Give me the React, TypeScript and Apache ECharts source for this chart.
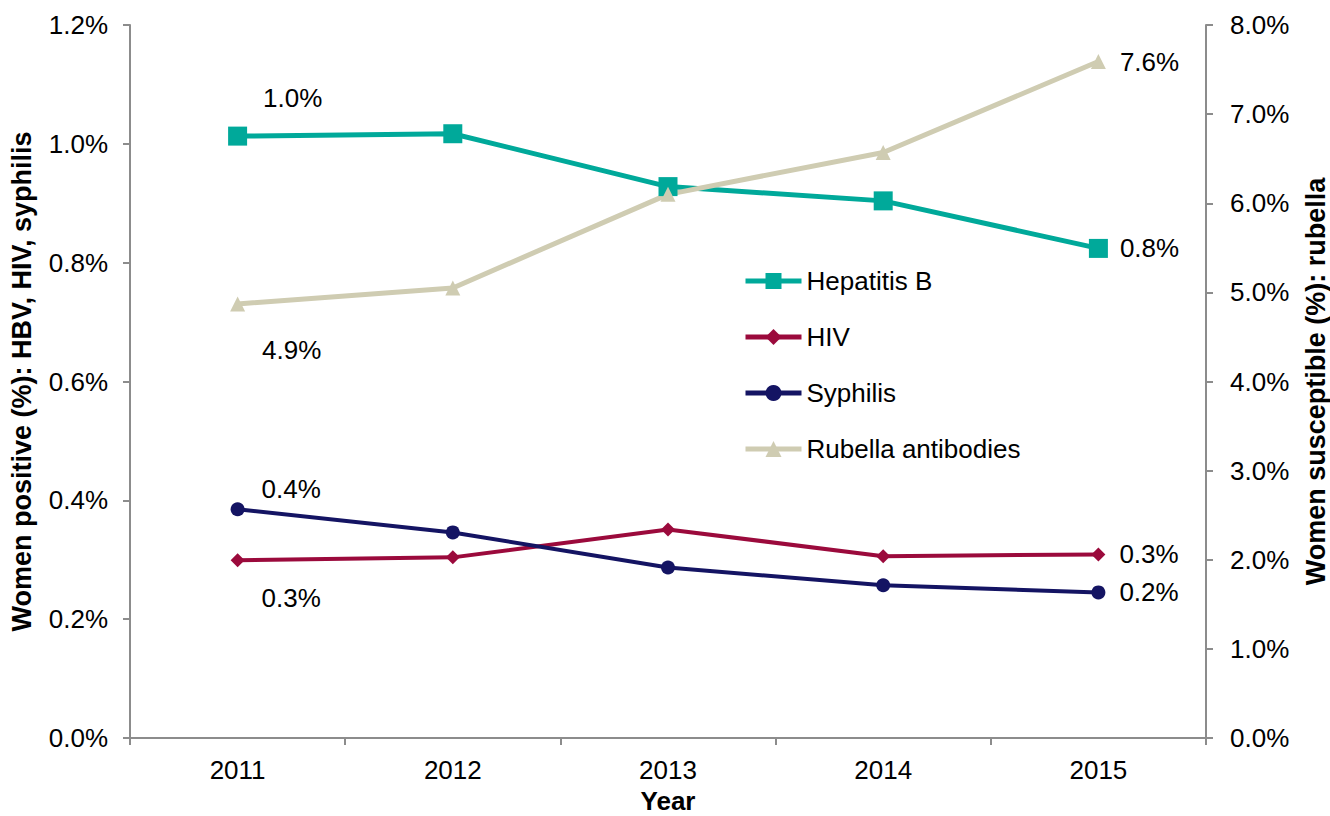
import React, { useEffect, useRef } from "react";
import * as echarts from "echarts";

const years = ["2011", "2012", "2013", "2014", "2015"];
const hepatitisB = [1.013, 1.017, 0.928, 0.904, 0.824];
const hiv = [0.299, 0.304, 0.351, 0.306, 0.309];
const syphilis = [0.385, 0.346, 0.287, 0.257, 0.245];
const rubella = [4.87, 5.05, 6.1, 6.57, 7.59];

const leftTicks = { min: 0, max: 1.2, interval: 0.2 };
const rightTicks = { min: 0, max: 8, interval: 1 };

const FONT = "Liberation Sans, Arial, sans-serif";
const FS = 26;
const TFS = 27;
const AXIS_COLOR = "#8c8c8c";

function withLabels(values: number[], labels: Record<number, { text: string; offset: number[] }>) {
  return values.map((v, i) => {
    const l = labels[i];
    if (!l) return v;
    return {
      value: v,
      label: {
        show: true,
        position: "right",
        distance: 0,
        offset: l.offset,
        formatter: l.text,
        color: "#000",
        fontSize: FS,
        fontFamily: FONT,
      },
    };
  });
}

export default function App() {
  const ref = useRef<HTMLDivElement>(null);
  useEffect(() => {
    if (!ref.current) return;
    const chart = echarts.init(ref.current, null, { renderer: "svg" });
    const pct = (v: number) => v.toFixed(1) + "%";
    chart.setOption({
      animation: false,
      backgroundColor: "#fff",
      textStyle: { fontFamily: FONT },
      grid: {
        left: 130,
        right: 124,
        top: 25,
        bottom: 78,
        containLabel: false,
        outerBoundsMode: "none",
      },
      legend: {
        orient: "vertical",
        left: 738,
        top: 263,
        itemWidth: 56,
        itemHeight: 20,
        itemGap: 30,
        lineStyle: { width: 5 },
        textStyle: { fontSize: FS, color: "#000", fontFamily: FONT, lineHeight: 20 },
        data: ["Hepatitis B", "HIV", "Syphilis", "Rubella antibodies"],
      },
      xAxis: {
        type: "category",
        data: years,
        boundaryGap: true,
        name: "Year",
        nameLocation: "middle",
        nameGap: 48,
        nameTextStyle: {
          fontSize: 26,
          fontWeight: "bold",
          color: "#000",
          fontFamily: FONT,
        },
        axisLine: { lineStyle: { color: AXIS_COLOR, width: 2 } },
        axisTick: { show: true, length: 7, lineStyle: { color: AXIS_COLOR, width: 2 } },
        axisLabel: { fontSize: FS, color: "#000", margin: 19, fontFamily: FONT },
        splitLine: { show: false },
      },
      yAxis: [
        {
          type: "value",
          min: leftTicks.min,
          max: leftTicks.max,
          interval: leftTicks.interval,
          name: "Women positive (%): HBV, HIV, syphilis",
          nameLocation: "middle",
          nameGap: 95,
          nameTextStyle: { fontSize: TFS, fontWeight: "bold", color: "#000", fontFamily: FONT },
          axisLine: { show: true, lineStyle: { color: AXIS_COLOR, width: 2 } },
          axisTick: { show: true, length: 7, lineStyle: { color: AXIS_COLOR, width: 2 } },
          axisLabel: { fontSize: FS, color: "#000", margin: 22, formatter: pct, fontFamily: FONT },
          splitLine: { show: false },
        },
        {
          type: "value",
          min: rightTicks.min,
          max: rightTicks.max,
          interval: rightTicks.interval,
          name: "Women susceptible (%): rubella",
          nameLocation: "middle",
          nameGap: 96,
          nameRotate: 90,
          nameTextStyle: { fontSize: TFS, fontWeight: "bold", color: "#000", fontFamily: FONT },
          axisLine: { show: true, lineStyle: { color: AXIS_COLOR, width: 2 } },
          axisTick: { show: true, length: 7, lineStyle: { color: AXIS_COLOR, width: 2 } },
          axisLabel: { fontSize: FS, color: "#000", margin: 24, formatter: pct, fontFamily: FONT },
          splitLine: { show: false },
        },
      ],
      series: [
        {
          name: "Hepatitis B",
          type: "line",
          yAxisIndex: 0,
          symbol: "rect",
          symbolSize: 19,
          color: "#00a99a",
          lineStyle: { width: 5, color: "#00a99a" },
          itemStyle: { color: "#00a99a" },
          data: withLabels(hepatitisB, {
            0: { text: "1.0%", offset: [16, -38] },
            4: { text: "0.8%", offset: [12, 0] },
          }),
        },
        {
          name: "HIV",
          type: "line",
          yAxisIndex: 0,
          symbol: "diamond",
          symbolSize: 14,
          color: "#9b0a3c",
          lineStyle: { width: 4, color: "#9b0a3c" },
          itemStyle: { color: "#9b0a3c" },
          data: withLabels(hiv, {
            0: { text: "0.3%", offset: [17, 38] },
            4: { text: "0.3%", offset: [14, 0] },
          }),
        },
        {
          name: "Syphilis",
          type: "line",
          yAxisIndex: 0,
          symbol: "circle",
          symbolSize: 14,
          color: "#141463",
          lineStyle: { width: 4, color: "#141463" },
          itemStyle: { color: "#141463" },
          data: withLabels(syphilis, {
            0: { text: "0.4%", offset: [17, -20] },
            4: { text: "0.2%", offset: [14, 0] },
          }),
        },
        {
          name: "Rubella antibodies",
          type: "line",
          yAxisIndex: 1,
          symbol: "triangle",
          symbolSize: 15,
          color: "#cfccb2",
          lineStyle: { width: 5, color: "#cfccb2" },
          itemStyle: { color: "#cfccb2" },
          data: withLabels(rubella, {
            0: { text: "4.9%", offset: [17, 46] },
            4: { text: "7.6%", offset: [14, 0] },
          }),
        },
      ],
    });
    return () => chart.dispose();
  }, []);
  return (
    <div
      ref={ref}
      style={{ position: "fixed", left: 0, top: 0, width: 1330, height: 816, background: "#fff" }}
    />
  );
}
